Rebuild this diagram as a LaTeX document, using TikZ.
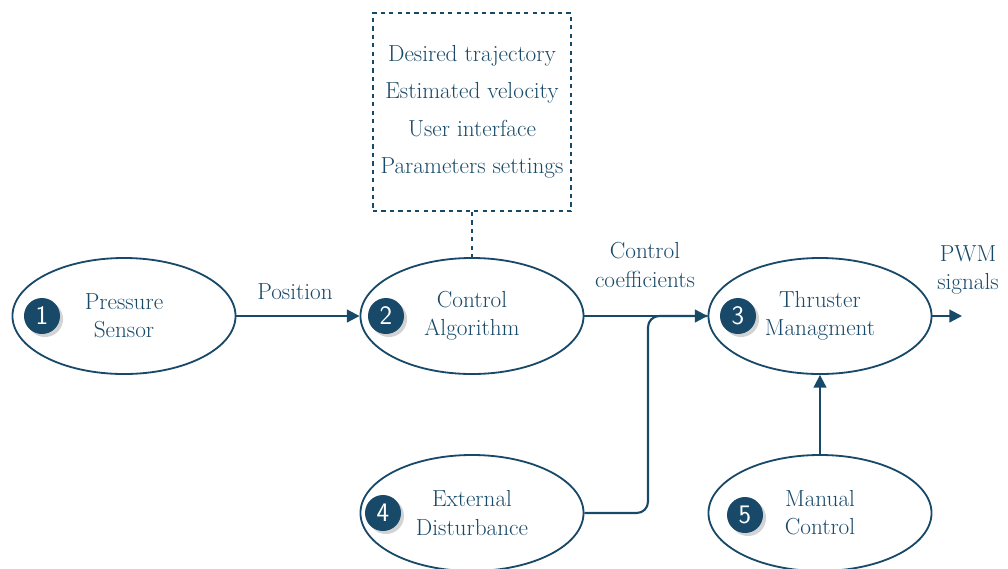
\documentclass[tikz,border=0pt]{standalone}
\usepackage{color}
\usetikzlibrary{calc,shapes.geometric,shadows,arrows.meta}
\definecolor{navy}{RGB}{24,73,104}

\begin{document}
\begin{tikzpicture}[x=0.025cm,y=-0.025cm,
    blob/.style={ellipse,draw=navy,line width=1.3pt,minimum width=5.575cm,
      minimum height=2.9cm,align=center,text=navy,font=\fontsize{16.5}{20}\selectfont},
    badge/.style={circle,fill=navy,text=white,minimum size=0.9cm,inner sep=0pt,
      font=\sffamily\fontsize{19}{19}\selectfont,drop shadow={opacity=0.35}},
    lbl/.style={align=center,text=navy,font=\fontsize{16.5}{20}\selectfont},
    flow/.style={draw=navy,line width=1.5pt,-{Triangle[length=9pt,width=9pt]}},
    wire/.style={draw=navy,line width=1.5pt}]
  \useasboundingbox (0,0) rectangle (1008,568);

  % main blocks
  \node[blob] (s1) at (124,316) {Pressure\\Sensor};
  \node[blob] (s2) at (472,316) {Control\\Algorithm};
  \node[blob] (s3) at (820,316) {Thruster\\Managment};
  \node[blob] (s4) at (472,513) {External\\Disturbance};
  \node[blob] (s5) at (820,513) {Manual\\Control};

  \node[badge] (b1) at (42,316) {1};
  \node[badge] (b2) at (386,316) {2};
  \node[badge] (b3) at (738,316) {3};
  \node[badge] (b4) at (383,513) {4};
  \node[badge] (b5) at (745,515) {5};

  % inputs of the controller
  \node[draw=navy,dashed,line width=1.2pt,minimum width=4.95cm,minimum height=4.95cm,
    align=center,text=navy,font=\fontsize{16.5}{26.6}\selectfont] (inp) at (472,112)
    {Desired trajectory\\Estimated velocity\\User interface\\Parameters settings};
  \draw[wire,dashed,line width=1.2pt] (inp.south) -- (s2.north);

  \coordinate (j) at (648,316);
  \coordinate (pwm) at (962,316);

  \draw[flow] (s1.east) -- (s2.west);
  \draw[flow] (s2.east) -- (s3.west);
  \draw[wire,rounded corners=8] (s4.east) -| (j) -- (s3.west);
  \draw[flow] (s3.east) -- (pwm);
  \draw[flow] (s5.north) -- (s3.south);

  \node[lbl] (l1) at (295,292) {Position};
  \node[lbl] (l2) at (645,265) {Control\\coefficients};
  \node[lbl] (l3) at (968,270) {PWM\\signals};
\end{tikzpicture}
\end{document}
